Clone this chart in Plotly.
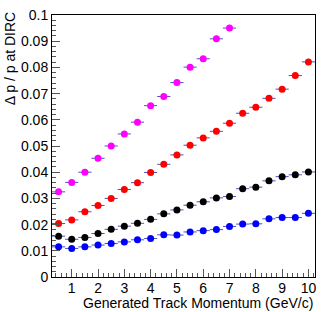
import plotly.graph_objects as go

momentum = [0.5, 1.0, 1.5, 2.0, 2.5, 3.0, 3.5, 4.0, 4.5, 5.0,
            5.5, 6.0, 6.5, 7.0, 7.5, 8.0, 8.5, 9.0, 9.5, 10.0]

magenta_vals = [0.0325, 0.0361, 0.0400, 0.0453, 0.0500, 0.0546, 0.0591, 0.0654,
                0.0689, 0.0742, 0.0801, 0.0833, 0.0909, 0.0950]
red_vals = [0.0204, 0.0218, 0.0249, 0.0273, 0.0300, 0.0334, 0.0360, 0.0399, 0.0430, 0.0466,
            0.0503, 0.0531, 0.0556, 0.0587, 0.0625, 0.0648, 0.0682, 0.0717, 0.0769, 0.0821]
black_vals = [0.0156, 0.0144, 0.0151, 0.0166, 0.0182, 0.0194, 0.0205, 0.0220, 0.0241, 0.0256,
              0.0274, 0.0287, 0.0302, 0.0307, 0.0337, 0.0343, 0.0367, 0.0383, 0.0390, 0.0401]
blue_vals = [0.0115, 0.0109, 0.0115, 0.0122, 0.0128, 0.0134, 0.0142, 0.0147, 0.0161, 0.0160,
             0.0172, 0.0177, 0.0181, 0.0193, 0.0202, 0.0203, 0.0222, 0.0227, 0.0227, 0.0243]

bin_half_width = 0.25

x_ticks = [1, 2, 3, 4, 5, 6, 7, 8, 9, 10]
y_ticks = [0, 0.01, 0.02, 0.03, 0.04, 0.05, 0.06, 0.07, 0.08, 0.09, 0.1]
y_tick_labels = ["0", "0.01", "0.02", "0.03", "0.04", "0.05", "0.06", "0.07", "0.08", "0.09", "0.1"]

series = [
    (momentum[:len(magenta_vals)], magenta_vals, "#ff00ff"),
    (momentum, red_vals, "#ff0000"),
    (momentum, black_vals, "#000000"),
    (momentum, blue_vals, "#0000ff"),
]

FONT = "Liberation Sans, Arial, sans-serif"

fig = go.Figure()
for xs, ys, col in series:
    fig.add_trace(go.Scatter(
        x=xs, y=ys, mode="markers",
        marker=dict(symbol="circle", size=7, color=col),
        error_x=dict(type="constant", value=bin_half_width, color="rgba(50,50,170,0.85)",
                     thickness=1, width=0),
        showlegend=False, hoverinfo="skip",
    ))

fig.update_layout(
    width=332, height=312,
    margin=dict(l=52, r=17, t=15, b=35, autoexpand=False),
    paper_bgcolor="white", plot_bgcolor="white",
    font=dict(family=FONT, size=14, color="black"),
    xaxis=dict(
        range=[0.25, 10.25], tickvals=x_ticks, ticks="inside", ticklen=8, tickcolor="#555",
        showline=True, linecolor="black", linewidth=1, mirror=True,
        showgrid=False, zeroline=False, automargin=False, ticklabelstandoff=-2,
        minor=dict(dtick=0.2, ticks="inside", ticklen=4, tickcolor="#555", showgrid=False),
        tickfont=dict(size=14),
    ),
    yaxis=dict(
        range=[0, 0.1], tickvals=y_ticks, ticktext=y_tick_labels, ticks="inside", ticklen=8,
        tickcolor="#555",
        showline=True, linecolor="black", linewidth=1, mirror=True,
        showgrid=False, zeroline=False, automargin=False,
        minor=dict(dtick=0.002, ticks="inside", ticklen=4, tickcolor="#555", showgrid=False),
        tickfont=dict(size=14),
    ),
    annotations=[
        dict(text="Generated Track Momentum (GeV/c)", xref="paper", yref="paper",
             x=1.0, y=-0.1, xanchor="right", yanchor="middle", showarrow=False,
             font=dict(size=14, family=FONT)),
        dict(text="Δ p / p at DIRC", xref="paper", yref="paper",
             x=-0.16, y=1.02, xanchor="center", yanchor="top", textangle=-90, showarrow=False,
             font=dict(size=14, family=FONT)),
    ],
)

fig.write_html("out.html", post_script="document.body.style.margin='0';",
               config={"displayModeBar": False})
